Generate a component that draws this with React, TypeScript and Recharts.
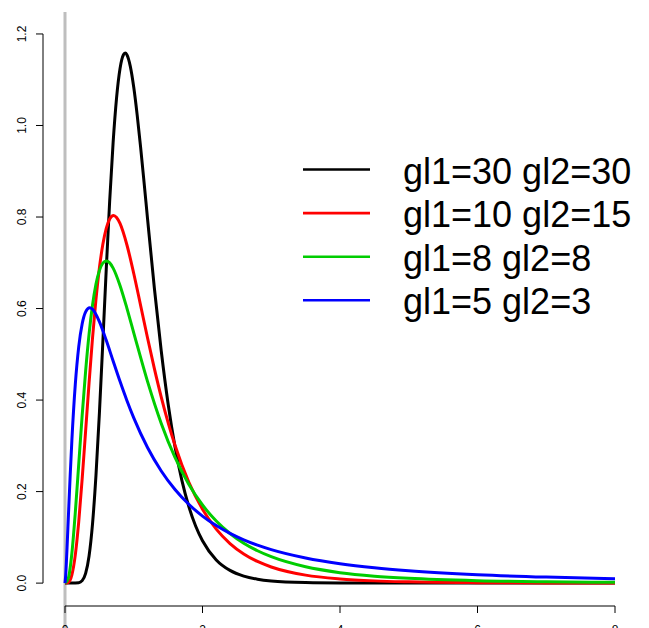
import { LineChart, Line, XAxis, YAxis, ReferenceLine } from "recharts"

// F densities, values
const blackX = [0, 0.1, 0.2, 0.25, 0.3, 0.35, 0.4, 0.45, 0.5, 0.55, 0.6, 0.65, 0.7, 0.75, 0.8, 0.85, 0.875, 0.9, 0.95, 1.0, 1.05, 1.1, 1.15, 1.2, 1.3, 1.4, 1.5, 1.6, 1.7, 1.8, 1.9, 2.0, 2.2, 2.4, 2.6, 2.8, 3.0, 3.5, 4, 5, 6, 7, 8]
const blackY = [0, 0, 0.0008, 0.0054, 0.0212, 0.0593, 0.129, 0.2342, 0.3703, 0.5259, 0.6859, 0.8355, 0.963, 1.0603, 1.1241, 1.1545, 1.1582, 1.1548, 1.1293, 1.0835, 1.0228, 0.952, 0.8757, 0.7972, 0.6443, 0.5072, 0.3916, 0.298, 0.2244, 0.1678, 0.1248, 0.0926, 0.0507, 0.0278, 0.0154, 0.0086, 0.0048, 0.0012, 0.0003, 0, 0, 0, 0]

const redX = [0, 0.05, 0.1, 0.15, 0.2, 0.25, 0.3, 0.35, 0.4, 0.45, 0.5, 0.55, 0.6, 0.65, 0.706, 0.75, 0.8, 0.9, 1.0, 1.1, 1.2, 1.3, 1.4, 1.6, 1.8, 2.0, 2.2, 2.4, 2.6, 2.8, 3.0, 3.5, 4, 4.5, 5, 6, 7, 8]
const redY = [0, 0.0017, 0.0179, 0.0617, 0.1343, 0.2282, 0.3328, 0.4377, 0.5351, 0.6194, 0.688, 0.7398, 0.7753, 0.7959, 0.8034, 0.799, 0.7859, 0.7394, 0.6766, 0.6067, 0.5361, 0.4687, 0.4065, 0.3013, 0.2209, 0.1614, 0.118, 0.0865, 0.0638, 0.0473, 0.0353, 0.0175, 0.0091, 0.0049, 0.0028, 0.001, 0.0004, 0.0002]

const greenX = [0, 0.05, 0.1, 0.15, 0.2, 0.25, 0.3, 0.35, 0.4, 0.45, 0.5, 0.55, 0.6, 0.65, 0.7, 0.8, 0.9, 1.0, 1.2, 1.4, 1.6, 1.8, 2.0, 2.2, 2.4, 2.6, 2.8, 3.0, 3.5, 4, 4.5, 5, 6, 7, 8]
const greenY = [0, 0.0118, 0.0653, 0.1545, 0.2605, 0.367, 0.4634, 0.5441, 0.6071, 0.6529, 0.6828, 0.6991, 0.704, 0.6998, 0.6884, 0.6505, 0.6009, 0.5469, 0.4409, 0.349, 0.2746, 0.2161, 0.1707, 0.1356, 0.1084, 0.0872, 0.0707, 0.0577, 0.0357, 0.0229, 0.0152, 0.0104, 0.0052, 0.0029, 0.0017]

const blueX = [0, 0.01, 0.02, 0.03, 0.05, 0.075, 0.1, 0.15, 0.2, 0.25, 0.3, 0.36, 0.4, 0.5, 0.6, 0.7, 0.8, 0.9, 1.0, 1.2, 1.4, 1.6, 1.8, 2.0, 2.2, 2.4, 2.6, 2.8, 3.0, 3.5, 4, 4.5, 5, 6, 7, 8]
const blueY = [0, 0.0171, 0.0453, 0.0781, 0.1483, 0.2342, 0.3118, 0.4346, 0.5169, 0.5668, 0.5928, 0.602, 0.5988, 0.5716, 0.5305, 0.4854, 0.4409, 0.3992, 0.3612, 0.2964, 0.2451, 0.2045, 0.1723, 0.1465, 0.1257, 0.1087, 0.0946, 0.083, 0.0732, 0.0549, 0.0423, 0.0334, 0.0269, 0.0183, 0.0131, 0.0098]

const seriesNames = ["gl1=30 gl2=30", "gl1=10 gl2=15", "gl1=8 gl2=8", "gl1=5 gl2=3"]
const seriesColors = ["#000000", "#FF0000", "#00CD00", "#0000FF"]

const xTicks = [0, 2, 4, 6, 8]
const yTicks = [0, 0.2, 0.4, 0.6, 0.8, 1.0, 1.2]

// R-style padded plot region
const X_MIN = -0.32
const X_MAX = 8.32
const Y_MIN = -0.05
const Y_MAX = 1.248

const FONT = "'Liberation Sans', Arial, sans-serif"

const toPoints = (xs: number[], ys: number[]) => xs.map((x, i) => ({ x, y: ys[i] }))

const series = [
  toPoints(blackX, blackY),
  toPoints(redX, redY),
  toPoints(greenX, greenY),
  toPoints(blueX, blueY),
]

function XTick({ x, y, payload }: any) {
  return (
    <text x={x} y={y + 19} textAnchor="middle" fontSize={12} fontFamily={FONT} fill="#000">
      {payload.value}
    </text>
  )
}

function YTick({ x, y, payload }: any) {
  const tx = x - 8
  return (
    <text
      x={tx}
      y={y}
      transform={`rotate(-90, ${tx}, ${y})`}
      textAnchor="middle"
      fontSize={12}
      fontFamily={FONT}
      fill="#000"
    >
      {Number(payload.value).toFixed(1)}
    </text>
  )
}

function LegendBox() {
  return (
    <svg
      width={649}
      height={628}
      style={{ position: "absolute", left: 0, top: 0, pointerEvents: "none" }}
    >
      {seriesNames.map((name, i) => {
        const ly = 169.5 + i * 43.6
        return (
          <g key={name}>
            <line x1={303} x2={370} y1={ly} y2={ly} stroke={seriesColors[i]} strokeWidth={2.6} />
            <text x={403} y={ly + 14} fontSize={36} fontFamily={FONT} fill="#000">
              {name}
            </text>
          </g>
        )
      })}
    </svg>
  )
}

export default function App() {
  return (
    <div style={{ position: "absolute", left: 0, top: 0, width: 649, height: 628, background: "#fff" }}>
      <LineChart width={649} height={628} margin={{ top: 12, right: 12, bottom: 0, left: 0 }}>
        <XAxis
          type="number"
          dataKey="x"
          domain={[X_MIN, X_MAX]}
          allowDataOverflow
          ticks={xTicks}
          interval={0}
          height={22}
          axisLine={false}
          tickLine={{ stroke: "#000", strokeWidth: 1 }}
          tickSize={7}
          tick={<XTick />}
        />
        <YAxis
          type="number"
          dataKey="y"
          domain={[Y_MIN, Y_MAX]}
          allowDataOverflow
          ticks={yTicks}
          interval={0}
          width={43}
          axisLine={false}
          tickLine={{ stroke: "#000", strokeWidth: 1 }}
          tickSize={7}
          tick={<YTick />}
        />
        <ReferenceLine
          segment={[{ x: 0, y: Y_MAX }, { x: 0, y: -0.1 }]}
          stroke="#BEBEBE"
          strokeWidth={3}
          ifOverflow="visible"
        />
        <ReferenceLine
          segment={[{ x: 0, y: Y_MIN }, { x: 8, y: Y_MIN }]}
          stroke="#000"
          strokeWidth={1}
          ifOverflow="visible"
        />
        <ReferenceLine
          segment={[{ x: X_MIN, y: 0 }, { x: X_MIN, y: 1.2 }]}
          stroke="#000"
          strokeWidth={1}
          ifOverflow="visible"
        />
        {series.map((pts, i) => (
          <Line
            key={seriesNames[i]}
            data={pts}
            dataKey="y"
            name={seriesNames[i]}
            type="monotone"
            stroke={seriesColors[i]}
            strokeWidth={3}
            dot={false}
            activeDot={false}
            isAnimationActive={false}
          />
        ))}
      </LineChart>
      <LegendBox />
    </div>
  )
}
